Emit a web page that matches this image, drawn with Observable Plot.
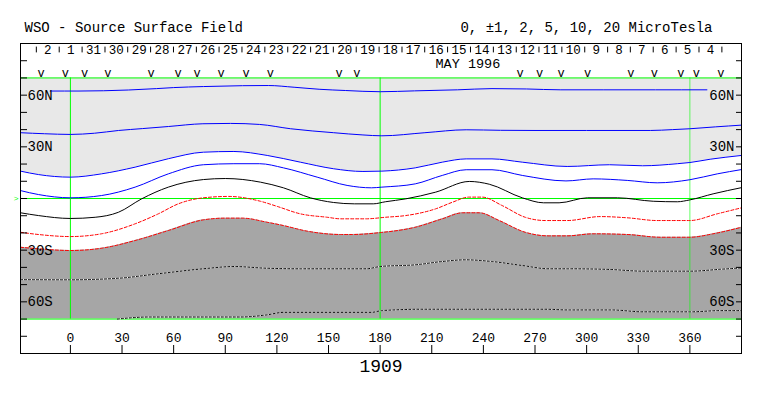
<!DOCTYPE html>
<html>
<head>
<meta charset="utf-8">
<script src="https://cdn.jsdelivr.net/npm/d3@7"></script>
<script src="https://cdn.jsdelivr.net/npm/@observablehq/plot@0.6"></script>
<style>
  html, body { margin: 0; padding: 0; background: #ffffff; }
  #chart svg { display: block; }
</style>
</head>
<body>
<div id="chart"></div>
<script>
// ---- Texts ----
const titleLeft = "WSO - Source Surface Field";
const titleRight = "0, \u00b11, 2, 5, 10, 20 MicroTesla";
const rotationLabel = "1909";
const monthLabel = "MAY 1996";
const monthLabelLon = [231];

// ---- Axes ----
const lonTicks = [0, 30, 60, 90, 120, 150, 180, 210, 240, 270, 300, 330, 360];
const latTicks = [-80, -70, -60, -50, -40, -30, -20, -10, 0, 10, 20, 30, 40, 50, 60, 70, 80];
const latLabelValues = [60, 30, -30, -60];
const latLabelTexts = ["60N", "30N", "30S", "60S"];
const shadeLimits = [-70, 70];
const greenLats = [-70, 0, 70];
const greenLons = [0, 180, 360];

// ---- Date row (Carrington longitude of day boundaries) ----
const dayTickLons = [-19.8, -6.5, 6.8, 20.1, 33.3, 46.6, 59.9, 73.2, 86.4, 99.7, 113.0, 126.3,
  139.6, 152.8, 166.1, 179.4, 192.7, 205.9, 219.2, 232.5, 245.8, 259.1, 272.3, 285.6, 298.9,
  312.2, 325.4, 338.7, 352.0, 365.3, 378.6];
const dayLabels = ["2", "1", "31", "30", "29", "28", "27", "26", "25", "24", "23", "22", "21", "20",
  "19", "18", "17", "16", "15", "14", "13", "12", "11", "10", "9", "8", "7", "6", "5", "4"];
// observation markers
const obsLons = [-17.0, -2.9, 8.3, 21.7, 46.9, 62.6, 73.6, 87.5, 102.1, 116.2, 156.1, 166.5,
  261.4, 272.6, 285.1, 300.5, 325.7, 339.3, 354.8, 363.7, 378.0];

// ---- Contours [longitude, latitude] ----
const pos10 = [[-11.8,62.4],[5,62.4],[33.7,63.0],[50,63.8],[60,64.4],[77.3,65.0],[100,65.5],[115,65.6],
  [130,64.6],[145,63.4],[160,62.7],[180,62.0],[200,62.5],[225,63.1],[245,63.8],[265,63.6],[285,63.1],
  [310,63.1],[340,63.1],[369.9,63.1]];
const pos5 = [[-29,38.2],[-15,37.6],[0,37.2],[14,37.9],[28,39.5],[42,40.6],[57,41.8],[77,43.4],[93,43.6],
  [110,43.0],[128,40.5],[153,38.2],[170,36.9],[181,36.4],[206,38.2],[230,39.9],[250,39.6],[270,39.5],
  [300,39.5],[337,39.5],[350,40.0],[360,40.5],[375,41.6],[390,42.6]];
const pos2 = [[-29,15.9],[-18.6,13.9],[0,12.4],[18,14.3],[37.6,18.2],[56.9,23.1],[77.3,26.9],[95,27.3],
  [114.4,25.0],[133.6,21.1],[152.8,17.3],[170,15.7],[181,15.9],[200.4,17.8],[216.1,21.1],[230,23.0],
  [245,23.0],[262.6,21.1],[288.7,18.6],[313.3,19.6],[332.5,19.0],[352.7,20.2],[360,20.9],[371.8,22.8],[390,25.0]];
const pos1 = [[-29,4.6],[-18.6,2.3],[0,0.4],[18,1.7],[37.6,6.6],[56.9,14.3],[77.3,19.6],[95,20.2],[110,20.2],
  [123.8,17.8],[143.4,12.4],[160.8,7.6],[175,6.2],[181,6.6],[200.4,8.5],[216.1,13.4],[230,16.7],[245,16.7],
  [262.6,13.4],[288,10.2],[303.8,11.4],[323.6,10.5],[341,9.1],[360,10.9],[375.9,14.3],[390,16.8]];
const zero = [[-29,-8.3],[-18.6,-9.9],[0,-11.6],[14.4,-10.9],[27.9,-8.0],[41.4,-0.2],[56.9,6.6],[77.3,11.0],
  [90,11.6],[110.4,9.5],[123.8,6.2],[139.4,0.4],[152.8,-2.3],[165,-3.1],[176,-3.1],[183,-1.9],[194.9,-0.2],
  [212.3,3.7],[231.8,9.9],[243.4,8.3],[262.6,0.4],[275,-2.5],[284,-2.5],[300.5,0.4],[317.9,0.4],[338.7,-1.6],
  [352.7,-1.9],[360,-0.8],[373.5,2.7],[390,6.3]];
const neg1 = [[-29,-19.6],[-18.6,-20.9],[0,-22.1],[18,-20.5],[37.6,-14.7],[51.1,-8.9],[62.7,-3.1],[77.3,0.4],
  [92,1.2],[110.4,-1.6],[120.2,-4.6],[133.6,-8.9],[149.3,-10.9],[157,-11.8],[172,-11.8],[183,-10.9],
  [194.9,-9.9],[212.3,-6.0],[222.2,-2.1],[231.5,0.8],[239.3,0.8],[250.9,-4.1],[264.3,-10.9],[276,-12.8],
  [288.7,-12.8],[307.9,-10.5],[323.6,-11.2],[341,-12.8],[360,-12.8],[375.9,-8.9],[390,-5.4]];
const neg2 = [[-29,-28.3],[-18.6,-29.2],[0,-30.2],[18,-28.9],[37.6,-24.4],[56.9,-18.6],[77.3,-12.4],[90,-11.4],
  [100,-11.4],[114.4,-13.8],[123.8,-15.7],[137.8,-19.0],[157,-20.9],[164,-20.9],[180,-19.8],[200.4,-16.7],
  [216.1,-11.8],[228,-8.3],[237.6,-8.3],[249.2,-12.8],[264.3,-19.6],[278,-21.7],[288.7,-21.7],[303.8,-20.5],
  [323.6,-20.9],[343,-22.5],[360,-22.5],[373.5,-20.5],[390,-16.7]];
const neg5 = [[-29,-47.1],[0,-47.2],[27.9,-46.3],[51.1,-43.7],[77.3,-40.8],[95,-39.5],[114.4,-40.5],[134,-40.8],
  [172,-40.8],[180,-39.5],[200.4,-38.5],[216.1,-36.6],[229.5,-35.6],[245,-36.6],[262.6,-38.9],[278,-40.8],
  [289,-40.8],[313.3,-41.2],[333,-42.2],[360,-42.2],[377.6,-41.1],[390,-40.3]];
const neg10 = [[27.3,-70],[46,-68.8],[99,-68.8],[114,-67.6],[124,-66.1],[175,-66.1],[181,-65.1],[205,-64.3],
  [275,-64.3],[290,-64.7],[314,-64.7],[333,-65.8],[360,-65.8],[378,-65.1],[390,-65.1]];

const rows = (arr) => arr.map(([lon, lat]) => ({lon, lat}));
const green = "#00ff00";
const curve = "monotone-x";
const stickShape = {draw(context, l) { context.moveTo(0, 0); context.lineTo(0, -l); }};
const dayCenters = d3.pairs(dayTickLons).map(([a, b]) => (a + b) / 2);

const lineMark = (arr, opts) => Plot.line(rows(arr), {x: "lon", y: "lat", curve, strokeWidth: 1, ...opts});
const label = (data, opts) => Plot.text(data, {lineAnchor: "middle", ...opts});

const chart = Plot.plot({
  width: 763,
  height: 396,
  marginLeft: 20,
  marginRight: 22,
  marginTop: 43,
  marginBottom: 43,
  x: {domain: [-29, 390], label: null},
  y: {domain: [-90, 90], label: null},
  style: {
    fontFamily: "'Liberation Mono', 'DejaVu Sans Mono', monospace",
    fontSize: "14px",
    background: "#ffffff",
    color: "#000000",
    overflow: "visible"
  },
  marks: [
    // shaded regions
    Plot.areaY(rows(pos2), {x: "lon", y1: shadeLimits[1], y2: "lat", fill: "#e8e8e8", curve}),
    Plot.areaY(rows(neg2), {x: "lon", y1: shadeLimits[0], y2: "lat", fill: "#a6a6a6", curve}),
    // green reference lines
    Plot.ruleY(greenLats, {y: d => d, stroke: green, strokeWidth: 1}),
    Plot.ruleX(greenLons, {x: d => d, y1: shadeLimits[0], y2: shadeLimits[1], stroke: green, strokeWidth: 1,
      strokeOpacity: (d) => d === 360 ? 0.6 : 1}),
    // contours
    lineMark(pos10, {stroke: "#0000ff"}),
    lineMark(pos5, {stroke: "#0000ff"}),
    lineMark(pos2, {stroke: "#0000ff"}),
    lineMark(pos1, {stroke: "#0000ff"}),
    lineMark(zero, {stroke: "#000000"}),
    lineMark(neg1, {stroke: "#ff0000", strokeDasharray: "3,2"}),
    lineMark(neg2, {stroke: "#ff0000", strokeDasharray: "3,2"}),
    lineMark(neg5, {stroke: "#ffffff"}),
    lineMark(neg5, {stroke: "#000000", strokeDasharray: "2,2"}),
    lineMark(neg10, {stroke: "#ffffff"}),
    lineMark(neg10, {stroke: "#000000", strokeDasharray: "2,2"}),
    // frame and ticks
    Plot.frame({stroke: "#000000"}),
    Plot.axisX(lonTicks, {anchor: "bottom", tickSize: -8, tickFormat: () => "", label: null}),
    Plot.axisY(latTicks, {anchor: "left", tickSize: -7, tickFormat: () => "", label: null}),
    Plot.axisY(latTicks, {anchor: "right", tickSize: -6, tickFormat: () => "", label: null}),
    label(lonTicks, {x: d => d, frameAnchor: "bottom", dy: -15.5, text: d => String(d), fontSize: 13}),
    label(latLabelValues, {y: d => d, frameAnchor: "left", dx: 7, textAnchor: "start",
      text: (d, i) => latLabelTexts[i], fontSize: 14}),
    label(latLabelValues, {y: d => d, frameAnchor: "right", dx: -7, textAnchor: "end",
      text: (d, i) => latLabelTexts[i], fontSize: 14}),
    label([0], {y: d => d, frameAnchor: "left", dx: -2, textAnchor: "end", text: () => ">",
      fill: green, fontSize: 8}),
    // date row
    Plot.vector(dayTickLons, {x: d => d, frameAnchor: "top", dy: 3.5, rotate: 180, length: 5, anchor: "start",
      shape: stickShape, stroke: "#000000", strokeWidth: 1}),
    label(dayCenters, {x: d => d, frameAnchor: "top", dy: 6, text: (d, i) => dayLabels[i], fontSize: 12.5}),
    label(monthLabelLon, {x: d => d, frameAnchor: "top", dy: 20.5, text: () => monthLabel, fontSize: 13.5}),
    label(obsLons, {x: d => d, frameAnchor: "top", dy: 30, text: () => "v", fontSize: 12}),
    // titles
    label([titleLeft], {frameAnchor: "top-left", dx: 4, dy: -15.5, textAnchor: "start", text: d => d, fontSize: 14}),
    label([titleRight], {frameAnchor: "top-right", dx: -29, dy: -15.5, textAnchor: "end", text: d => d, fontSize: 14}),
    label([rotationLabel], {frameAnchor: "bottom", dy: 13, text: d => d, fontSize: 18})
  ]
});

document.getElementById("chart").append(chart);
</script>
</body>
</html>
